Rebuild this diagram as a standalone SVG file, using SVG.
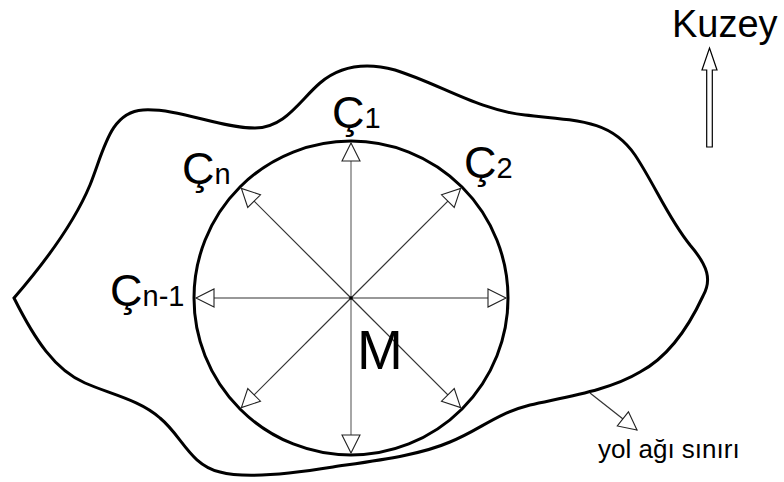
<svg xmlns="http://www.w3.org/2000/svg" width="784" height="482" viewBox="0 0 784 482">
<style>
.bd{fill:none;stroke:#000;stroke-width:3}
.ray{stroke:#333;stroke-width:1.2;fill:none}
.ray-v{stroke:#808080;stroke-width:1.4;fill:none}
.t{font-family:"Liberation Sans",Arial,sans-serif;fill:#000}
.big{font-size:45px}
.sub{font-size:29px}
</style>
<defs>
<marker id="ah" markerUnits="userSpaceOnUse" markerWidth="22" markerHeight="22" refX="18" refY="9" orient="auto" overflow="visible">
<path d="M0,0 L18,9 L0,18 Z" fill="#fff" stroke="#222" stroke-width="1.1" stroke-linejoin="miter"/>
</marker>
</defs>
<rect width="784" height="482" fill="#fff"/>
<g id="boundary">
<path class="bd" d="M14,298 C40,268 72,228 90,185 C104,150 110,112 143,110 C178,108 220,128 255,128 C285,128 300,100 320,83 C340,66 365,62 395,70 C440,84 478,110 525,115 C585,121 612,122 635,155 C655,185 668,218 690,245 C708,266 712,280 703,296 C690,324 670,356 640,372 C610,390 570,396 530,405 C495,414 480,430 450,442 C420,455 380,460 333,467 C290,474 245,479 220,472 C190,465 182,436 160,418 C140,400 110,394 85,383 C55,370 35,340 14,298 Z"/>
</g>
<g id="circle">
<circle cx="351" cy="298" r="157" class="bd"/>
</g>
<g id="connectors">
<line class="ray-v" x1="351" y1="298" x2="351" y2="143" marker-end="url(#ah)"/>
<line class="ray-v" x1="351" y1="298" x2="351" y2="453" marker-end="url(#ah)"/>
<line class="ray" x1="351" y1="298" x2="506" y2="298" marker-end="url(#ah)"/>
<line class="ray" x1="351" y1="298" x2="196" y2="298" marker-end="url(#ah)"/>
<line class="ray" x1="351" y1="298" x2="460.6" y2="188.4" marker-end="url(#ah)"/>
<line class="ray" x1="351" y1="298" x2="241.4" y2="188.4" marker-end="url(#ah)"/>
<line class="ray" x1="351" y1="298" x2="241.4" y2="407.6" marker-end="url(#ah)"/>
<line class="ray" x1="351" y1="298" x2="460.6" y2="407.6" marker-end="url(#ah)"/>
<line class="ray" x1="590" y1="393" x2="637" y2="430" marker-end="url(#ah)"/>
</g>
<g id="center">
<circle cx="351" cy="298" r="1.8" fill="#000"/>
<text class="t" x="357" y="369" font-size="55">M</text>
</g>
<g id="c1"><text class="t" x="332" y="128"><tspan class="big">Ç</tspan><tspan class="sub">1</tspan></text></g>
<g id="c2"><text class="t" x="464" y="178"><tspan class="big">Ç</tspan><tspan class="sub">2</tspan></text></g>
<g id="cn"><text class="t" x="182" y="184"><tspan class="big">Ç</tspan><tspan class="sub">n</tspan></text></g>
<g id="cn1"><text class="t" x="110" y="306"><tspan class="big">Ç</tspan><tspan class="sub">n-1</tspan></text></g>
<g id="road-label"><text class="t" x="598" y="458" font-size="26">yol ağı sınırı</text></g>
<g id="north">
<path d="M709.5,48 L717,70 L712.3,70 L712.3,147 L706.7,147 L706.7,70 L702,70 Z" fill="#fff" stroke="#000" stroke-width="1.2"/>
<text class="t" x="672" y="37" font-size="38">Kuzey</text>
</g>
</svg>
